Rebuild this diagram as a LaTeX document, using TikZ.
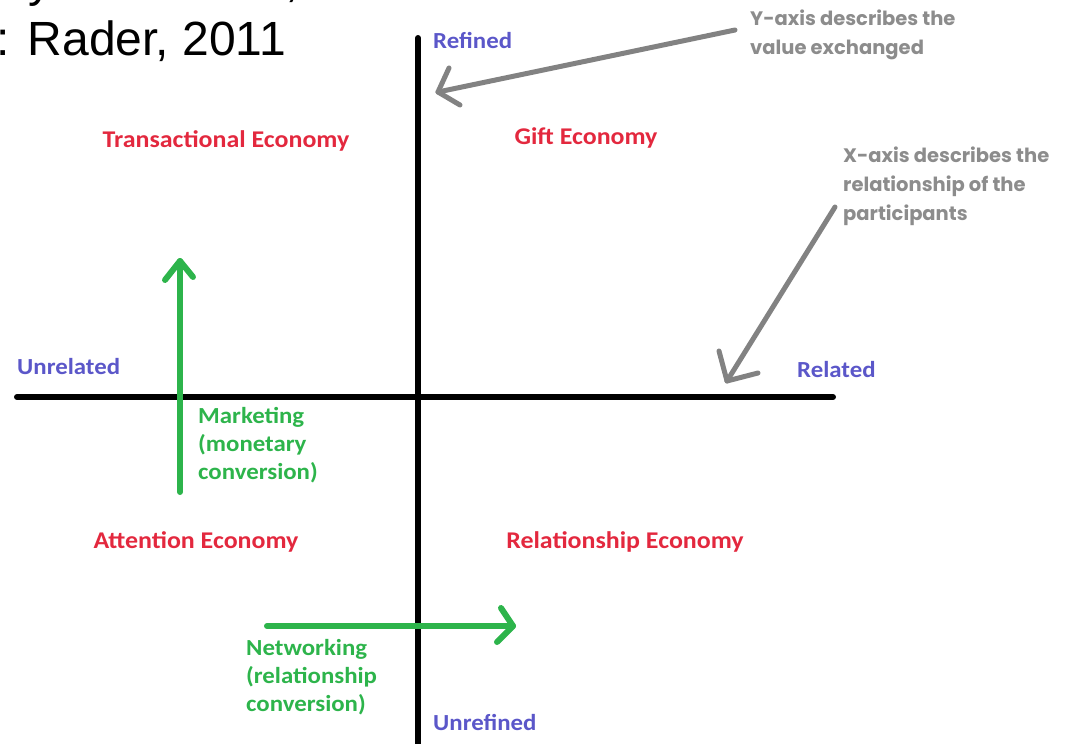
\documentclass[tikz,border=0pt]{standalone}
\usepackage{fontspec}
\setmainfont{Liberation Sans}
\newfontfamily\lblfont{Carlito}[FakeStretch=1.08]
\newfontfamily\grayfont{Poppins}
\definecolor{redlbl}{HTML}{E3283E}
\definecolor{bluelbl}{HTML}{5B57C9}
\definecolor{greenarr}{HTML}{2DB44B}
\definecolor{greyarr}{HTML}{828282}
\definecolor{greytxt}{HTML}{8C8C8C}
\tikzset{
  axisline/.style={line width=6pt, line cap=round, black},
  greenline/.style={line width=6pt, line cap=round, greenarr},
  greyline/.style={line width=5pt, line cap=round, line join=round, greyarr},
  econ/.style={font=\lblfont\bfseries\fontsize{24}{28}\selectfont, text=redlbl, inner sep=0pt},
  axlbl/.style={font=\lblfont\bfseries\fontsize{23}{27}\selectfont, text=bluelbl, inner sep=0pt, anchor=west},
  convlbl/.style={font=\lblfont\bfseries\fontsize{23}{28}\selectfont, text=greenarr, inner sep=0pt, anchor=west, align=left},
  notelbl/.style={font=\grayfont\bfseries\fontsize{19.5}{29}\selectfont, text=greytxt, inner sep=0pt, anchor=west, align=left},
  bigtxt/.style={font=\fontsize{48}{56}\selectfont, inner sep=0pt}
}
\begin{document}
\begin{tikzpicture}[x=1pt,y=-1pt]
\useasboundingbox (0,0) rectangle (1066,744);
\begin{scope}
\clip (0,0) rectangle (1066,744);
% title fragments (top line is cut off by the page edge)
\node[bigtxt, anchor=base] (ty) at (40,-3) {y};
\node[bigtxt, anchor=base] (tc) at (292,-3) {,};
\node[bigtxt, anchor=base east] (src) at (286,55) {Source: Rader, 2011};
% axes
\coordinate (ytop) at (418,38);
\coordinate (ybot) at (418,760);
\coordinate (xl) at (17,397);
\coordinate (xr) at (833,397);
\draw[axisline] (ytop) -- (ybot);
\draw[axisline] (xl) -- (xr);
% axis labels
\node[axlbl] (refined) at (433,40) {Refined};
\node[axlbl] (unrefined) at (433,722) {Unrefined};
\node[axlbl] (unrelated) at (17,367) {Unrelated};
\node[axlbl] (related) at (797,370) {Related};
% economies
\node[econ] (trans) at (226,141) {Transactional Economy};
\node[econ] (gift) at (586,138) {Gift Economy};
\node[econ] (attn) at (196,542) {Attention Economy};
\node[econ] (rel) at (625,542) {Relationship Economy};
% notes
\node[notelbl] (ynote) at (750,35) {Y-axis describes the\\value exchanged};
\node[notelbl] (xnote) at (843,186) {X-axis describes the\\relationship of the\\participants};
% grey arrow 1
\coordinate (g1s) at (735,30);
\coordinate (g1t) at (438,92);
\coordinate (g1a) at (449,68);
\coordinate (g1b) at (460,105);
\draw[greyline] (g1s) -- (g1t);
\draw[greyline] (g1a) -- (g1t) -- (g1b);
% grey arrow 2
\coordinate (g2s) at (835,207);
\coordinate (g2t) at (727,381);
\coordinate (g2a) at (719,351);
\coordinate (g2b) at (758,373);
\draw[greyline] (g2s) -- (g2t);
\draw[greyline] (g2a) -- (g2t) -- (g2b);
% marketing arrow
\coordinate (m0) at (180,492);
\coordinate (m1) at (180,261);
\coordinate (ma) at (165,280);
\coordinate (mb) at (193,277);
\draw[greenline] (m0) -- (m1);
\draw[greenline, line join=round] (ma) -- (m1) -- (mb);
\node[convlbl] (mkt) at (198,445) {Marketing\\(monetary\\conversion)};
% networking arrow
\coordinate (n0) at (267,626);
\coordinate (n1) at (513,626);
\coordinate (na) at (501,608);
\coordinate (nb) at (497,642);
\draw[greenline] (n0) -- (n1);
\draw[greenline, line join=round] (na) -- (n1) -- (nb);
\node[convlbl] (net) at (246,677) {Networking\\(relationship\\conversion)};
\end{scope}
\end{tikzpicture}
\end{document}
